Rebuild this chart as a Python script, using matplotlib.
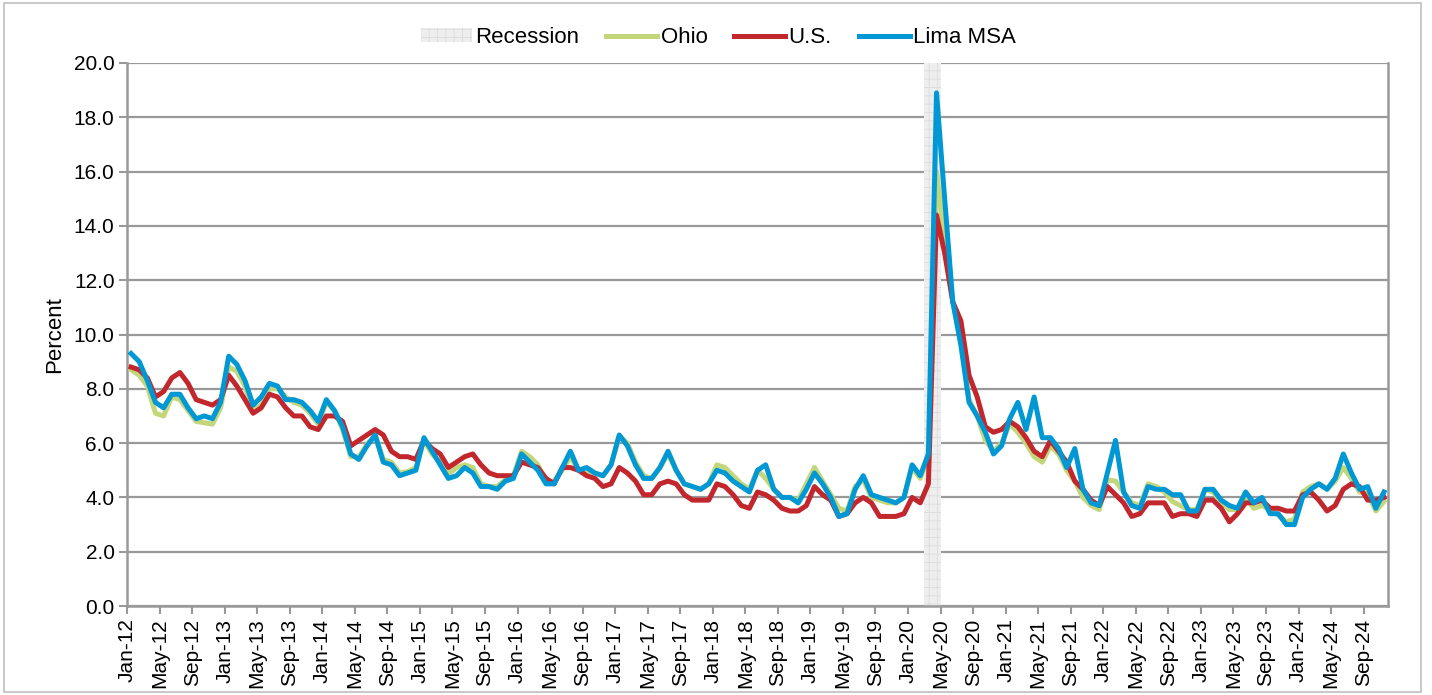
import pandas as pd
import matplotlib
matplotlib.use('Agg')
import matplotlib.pyplot as plt
from matplotlib.patches import Patch, Rectangle
from matplotlib.lines import Line2D

plt.rcParams['font.family'] = ['Liberation Sans', 'DejaVu Sans']
plt.rcParams['hatch.color'] = '#d9d9d9'
plt.rcParams['hatch.linewidth'] = 0.6

# monthly labels Jan-12 .. Nov-24
months = pd.date_range('2012-01-01', '2024-11-01', freq='MS')
labels = [d.strftime('%b-%y') for d in months]

# recession months (shaded)
recession = ['Mar-20', 'Apr-20']

lima = [9.3, 9.0, 8.3, 7.5, 7.3, 7.8, 7.8, 7.3, 6.9, 7.0, 6.9, 7.5,
        9.2, 8.9, 8.3, 7.4, 7.7, 8.2, 8.1, 7.6, 7.6, 7.5, 7.2, 6.8,
        7.6, 7.2, 6.6, 5.6, 5.4, 5.9, 6.3, 5.3, 5.2, 4.8, 4.9, 5.0,
        6.2, 5.7, 5.2, 4.7, 4.8, 5.1, 4.9, 4.4, 4.4, 4.3, 4.6, 4.7,
        5.6, 5.3, 5.0, 4.5, 4.5, 5.1, 5.7, 5.0, 5.1, 4.9, 4.8, 5.2,
        6.3, 5.9, 5.2, 4.7, 4.7, 5.1, 5.7, 5.0, 4.5, 4.4, 4.3, 4.5,
        5.0, 4.9, 4.6, 4.4, 4.2, 5.0, 5.2, 4.3, 4.0, 4.0, 3.8, 4.3,
        4.9, 4.5, 4.0, 3.3, 3.4, 4.3, 4.8, 4.1, 4.0, 3.9, 3.8, 4.0,
        5.2, 4.8, 5.6, 18.9, 15.0, 11.2, 9.6, 7.5, 7.0, 6.4, 5.6, 5.9,
        6.9, 7.5, 6.5, 7.7, 6.2, 6.2, 5.8, 5.1, 5.8, 4.3, 3.8, 3.7,
        4.9, 6.1, 4.2, 3.7, 3.6, 4.4, 4.3, 4.3, 4.1, 4.1, 3.5, 3.5,
        4.3, 4.3, 3.9, 3.7, 3.6, 4.2, 3.8, 4.0, 3.4, 3.4, 3.0, 3.0,
        4.0, 4.3, 4.5, 4.3, 4.7, 5.6, 4.9, 4.3, 4.4, 3.6, 4.2]

ohio = [8.7, 8.5, 8.1, 7.1, 7.0, 7.7, 7.6, 7.2, 6.8, 6.75, 6.7, 7.3,
        8.8, 8.65, 8.1, 7.2, 7.4, 8.0, 8.0, 7.7, 7.5, 7.4, 7.1, 6.7,
        7.5, 7.2, 6.5, 5.5, 5.5, 5.95, 6.3, 5.4, 5.3, 4.9, 4.95, 5.1,
        6.1, 5.6, 5.3, 4.85, 5.1, 5.2, 5.1, 4.5, 4.4, 4.4, 4.65, 4.8,
        5.7, 5.5, 5.2, 4.6, 4.6, 5.0, 5.5, 5.0, 5.0, 4.9, 4.8, 5.2,
        6.25, 6.0, 5.3, 4.8, 4.7, 5.1, 5.6, 5.0, 4.5, 4.4, 4.3, 4.5,
        5.2, 5.1, 4.8, 4.5, 4.3, 5.0, 4.7, 4.3, 4.0, 4.0, 3.9, 4.5,
        5.1, 4.6, 4.1, 3.6, 3.5, 4.4, 4.65, 4.0, 3.9, 3.8, 3.8, 4.0,
        5.1, 4.7, 5.5, 16.0, 13.4, 11.2, 9.8, 7.6, 7.0, 6.1, 5.7, 6.0,
        6.7, 6.4, 6.0, 5.5, 5.3, 5.9, 5.6, 5.0, 4.6, 4.0, 3.7, 3.55,
        4.65, 4.6, 4.2, 3.8, 3.7, 4.5, 4.4, 4.2, 3.85, 3.7, 3.55, 3.55,
        4.3, 4.2, 3.85, 3.55, 3.55, 4.0, 3.6, 3.7, 3.55, 3.35, 3.1, 3.2,
        4.2, 4.4, 4.5, 4.3, 4.6, 5.1, 4.7, 4.2, 4.15, 3.5, 3.85]

us = [8.8, 8.7, 8.4, 7.7, 7.9, 8.4, 8.6, 8.2, 7.6, 7.5, 7.4, 7.6,
      8.5, 8.1, 7.6, 7.1, 7.3, 7.8, 7.7, 7.3, 7.0, 7.0, 6.6, 6.5,
      7.0, 7.0, 6.8, 5.9, 6.1, 6.3, 6.5, 6.3, 5.7, 5.5, 5.5, 5.4,
      6.1, 5.8, 5.6, 5.1, 5.3, 5.5, 5.6, 5.2, 4.9, 4.8, 4.8, 4.8,
      5.3, 5.2, 5.1, 4.7, 4.5, 5.1, 5.1, 5.0, 4.8, 4.7, 4.4, 4.5,
      5.1, 4.9, 4.6, 4.1, 4.1, 4.5, 4.6, 4.5, 4.1, 3.9, 3.9, 3.9,
      4.5, 4.4, 4.1, 3.7, 3.6, 4.2, 4.1, 3.9, 3.6, 3.5, 3.5, 3.7,
      4.4, 4.1, 3.9, 3.3, 3.4, 3.8, 4.0, 3.8, 3.3, 3.3, 3.3, 3.4,
      4.0, 3.8, 4.5, 14.4, 13.0, 11.2, 10.5, 8.5, 7.7, 6.6, 6.4, 6.5,
      6.8, 6.6, 6.2, 5.7, 5.5, 6.1, 5.7, 5.3, 4.6, 4.3, 3.9, 3.7,
      4.4, 4.1, 3.8, 3.3, 3.4, 3.8, 3.8, 3.8, 3.3, 3.4, 3.4, 3.3,
      3.9, 3.9, 3.6, 3.1, 3.4, 3.8, 3.8, 3.9, 3.6, 3.6, 3.5, 3.5,
      4.1, 4.2, 3.9, 3.5, 3.7, 4.3, 4.5, 4.4, 3.9, 3.9, 4.0]

c_ohio = '#C3D77A'
c_us = '#C1272D'
c_lima = '#0098D4'

fig = plt.figure(figsize=(14.32, 6.95), dpi=100)
ax = fig.add_axes([0.0887, 0.128, 0.8806, 0.7814])

# outer chart border
fig.patches.append(Rectangle((0.003, 0.004), 0.989, 0.991, transform=fig.transFigure,
                             fill=False, edgecolor='#bfbfbf', linewidth=1.2))

x = [i + 0.5 for i in range(len(labels))]

# recession shading
r0 = labels.index(recession[0])
r1 = labels.index(recession[-1]) + 1
ax.axvspan(r0, r1, facecolor='#eeeeee', edgecolor='#dcdcdc', hatch='++', linewidth=0, zorder=1)

ax.plot(x, ohio, color=c_ohio, lw=3.6, zorder=3, solid_joinstyle='round')
ax.plot(x, us, color=c_us, lw=3.6, zorder=4, solid_joinstyle='round')
ax.plot(x, lima, color=c_lima, lw=3.6, zorder=5, solid_joinstyle='round')

ax.set_xlim(0, len(labels))
ax.set_ylim(0, 20)
ax.set_yticks([i * 2 for i in range(11)])
ax.set_yticklabels(['%.1f' % (i * 2) for i in range(11)], fontsize=15)
ax.yaxis.grid(True, color='#999999', linewidth=1.6, zorder=0)
ax.set_axisbelow(True)

ax.set_xticks(range(0, len(labels), 4))
ax.set_xticklabels(labels[::4], rotation=90, fontsize=15)
ax.tick_params(axis='both', direction='out', length=6, width=1.5, color='#999999', pad=3)

for s in ['left', 'bottom', 'right']:
    ax.spines[s].set_color('#999999')
    ax.spines[s].set_linewidth(1.8)
ax.spines['top'].set_visible(False)

ax.set_ylabel('Percent', fontsize=16, labelpad=6)

handles = [Patch(facecolor='#eeeeee', edgecolor='#dcdcdc', hatch='++', linewidth=0),
           Line2D([], [], color=c_ohio, lw=3.6),
           Line2D([], [], color=c_us, lw=3.6),
           Line2D([], [], color=c_lima, lw=3.6)]
fig.legend(handles, ['Recession', 'Ohio', 'U.S.', 'Lima MSA'], loc='center',
           bbox_to_anchor=(0.5017, 0.946), ncol=4, frameon=False, fontsize=16,
           handlelength=2.3, handletextpad=0.15, columnspacing=1.2, handleheight=0.6)

fig.savefig('out.png', dpi=100)
